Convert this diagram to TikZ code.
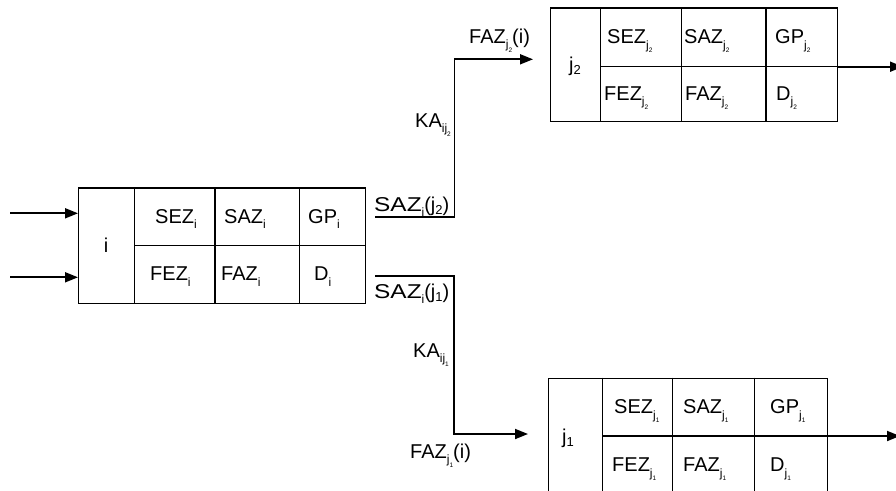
\documentclass[tikz,border=0pt]{standalone}
\usepackage{fontspec}
\setmainfont{Liberation Sans}
\usetikzlibrary{arrows.meta}
\newcommand{\sbx}[1]{\raisebox{-0.27em}{\fontsize{12}{12}\selectfont #1}}
\newcommand{\ssb}[1]{\raisebox{-0.3em}{\fontsize{6.5}{6.5}\selectfont #1}}
\newcommand{\sbn}[1]{\raisebox{-0.15em}{\fontsize{13}{13}\selectfont #1}}
\newcommand{\wide}[1]{\scalebox{1.22}[1]{#1}}
\begin{document}
\begin{tikzpicture}[x=1pt,y=-1pt,
  txt/.style={font=\fontsize{20}{20}\selectfont, inner sep=0pt},
  lbl/.style={txt, anchor=base west},
  ctr/.style={txt, anchor=base},
  frame/.style={draw, line width=1.4pt, rectangle, inner sep=0pt, anchor=north west},
  gridline/.style={line width=1.4pt},
  conn/.style={line width=1.8pt, -{Triangle[length=13pt,width=10pt]}}]
\useasboundingbox (0,0) rectangle (896,490);
\clip (0,0) rectangle (896,490);

% ---------- box i ----------
\node[frame, minimum width=287pt, minimum height=115.4pt] (bi) at (78,187.3) {};
\draw[gridline] (134.7,187.3) -- (134.7,302.7)
                (215,187.3) -- (215,302.7)
                (299.7,187.3) -- (299.7,302.7)
                (134.7,245.7) -- (365,245.7);
\node[ctr] (ti) at (106,252) {i};
\node[lbl] (ti1) at (155,223.3) {SEZ\sbx{i}};
\node[lbl] (ti2) at (224,223.3) {SAZ\sbx{i}};
\node[lbl] (ti3) at (308,223.3) {GP\sbx{i}};
\node[lbl] (ti4) at (150,280.8) {FEZ\sbx{i}};
\node[lbl] (ti5) at (221,280.8) {FAZ\sbx{i}};
\node[lbl] (ti6) at (314,280.8) {D\sbx{i}};

% ---------- box j2 ----------
\node[frame, minimum width=286.7pt, minimum height=113.4pt] (bj2) at (550,7.3) {};
\draw[gridline] (600.7,7.3) -- (600.7,120.7)
                (681.7,7.3) -- (681.7,120.7)
                (766,7.3) -- (766,120.7)
                (600.7,66.7) -- (836.7,66.7);
\node[ctr] (tj2) at (575,71) {j\sbn{2}};
\node[lbl] (tj21) at (607,43.8) {SEZ\sbx{j\ssb{2}}};
\node[lbl] (tj22) at (684,43.8) {SAZ\sbx{j\ssb{2}}};
\node[lbl] (tj23) at (775,43.8) {GP\sbx{j\ssb{2}}};
\node[lbl] (tj24) at (604,100.5) {FEZ\sbx{j\ssb{2}}};
\node[lbl] (tj25) at (685,100.5) {FAZ\sbx{j\ssb{2}}};
\node[lbl] (tj26) at (776,100.5) {D\sbx{j\ssb{2}}};

% ---------- box j1 ----------
\node[frame, minimum width=279pt, minimum height=116.3pt] (bj1) at (547.7,377.7) {};
\draw[gridline] (602.7,377.7) -- (602.7,494)
                (672.7,377.7) -- (672.7,494)
                (754.7,377.7) -- (754.7,494)
                (602.7,436) -- (826.7,436);
\node[ctr] (tj1) at (568,443) {j\sbn{1}};
\node[lbl] (tj11) at (614,413.6) {SEZ\sbx{j\ssb{1}}};
\node[lbl] (tj12) at (683,413.6) {SAZ\sbx{j\ssb{1}}};
\node[lbl] (tj13) at (770,413.6) {GP\sbx{j\ssb{1}}};
\node[lbl] (tj14) at (612,471.8) {FEZ\sbx{j\ssb{1}}};
\node[lbl] (tj15) at (683,471.8) {FAZ\sbx{j\ssb{1}}};
\node[lbl] (tj16) at (770,471.8) {D\sbx{j\ssb{1}}};

% ---------- connectors ----------
\coordinate (in1) at (10,213.3);
\coordinate (in2) at (10,277.3);
\draw[conn] (in1) -- (in1 -| bi.west);
\draw[conn] (in2) -- (in2 -| bi.west);

\coordinate (o2) at (375,217.3);
\coordinate (c2) at (454.5,59.3);
\coordinate (t2) at (533,59.3);
\draw[conn] (o2) -| (c2) -- (t2);

\coordinate (o1) at (375,276);
\coordinate (c1) at (454,434);
\coordinate (t1) at (528,434);
\draw[conn] (o1) -| (c1) -- (t1);

\coordinate (e2) at (836.7,66.7);
\coordinate (x2) at (903,66.7);
\draw[conn] (e2) -- (x2);
\coordinate (e1) at (826.7,436);
\coordinate (x1) at (900,436);
\draw[conn] (e1) -- (x1);

% ---------- labels ----------
\node[lbl] (l1) at (374,211) {\wide{SAZ}\sbx{i}(j\sbn{2})};
\node[lbl] (l2) at (374,298) {\wide{SAZ}\sbx{i}(j\sbn{1})};
\node[lbl] (l3) at (415,127) {KA\sbx{ij\ssb{2}}};
\node[lbl] (l4) at (413,357) {KA\sbx{ij\ssb{1}}};
\node[lbl] (l5) at (469,43) {FAZ\sbx{j\ssb{2}}(i)};
\node[lbl] (l6) at (410,458) {FAZ\sbx{j\ssb{1}}(i)};
\end{tikzpicture}
\end{document}
